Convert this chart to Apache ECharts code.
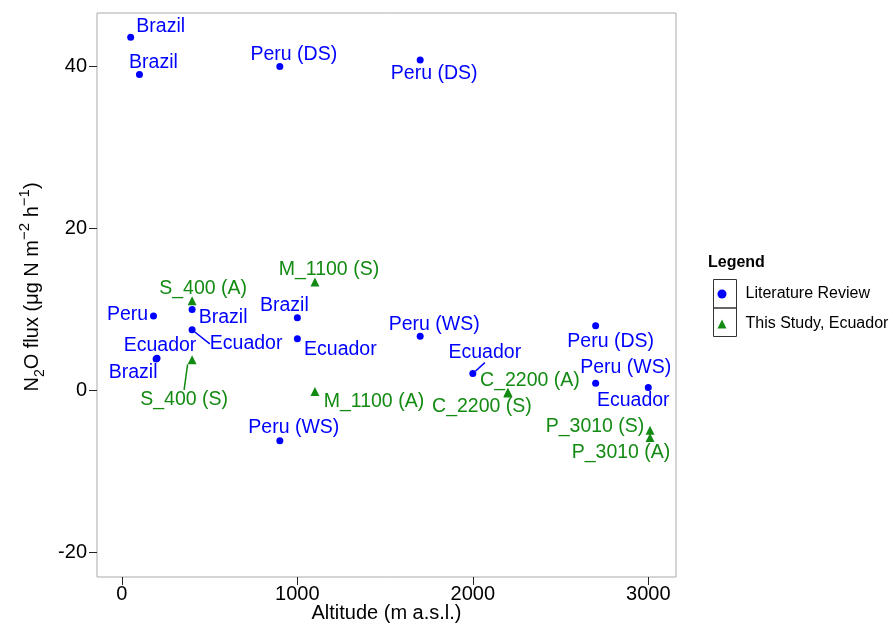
<!DOCTYPE html>
<html>
<head>
<meta charset="utf-8">
<script src="https://cdn.jsdelivr.net/npm/echarts@6/dist/echarts.min.js"></script>
<style>
  html, body { margin: 0; padding: 0; background: #fff; }
  #chart { width: 893px; height: 624px; }
</style>
</head>
<body>
<div id="chart"></div>
<script>
// literature review points
const litNames = ['Brazil', 'Brazil', 'Peru (DS)', 'Peru (DS)', 'Peru', 'Brazil', 'Ecuador', 'Ecuador', 'Brazil',
  'Brazil', 'Ecuador', 'Peru (WS)', 'Peru (WS)', 'Ecuador', 'Peru (DS)', 'Peru (WS)', 'Ecuador']
const litX = [50, 100, 900, 1700, 180, 400, 400, 200, 195, 1000, 1000, 900, 1700, 2000, 2700, 2700, 3000]
const litY = [43.6, 39.0, 40.0, 40.8, 9.2, 10.0, 7.5, 4.0, 3.9, 9.0, 6.4, -6.2, 6.7, 2.1, 8.0, 0.9, 0.4]

// this study, Ecuador
const studyNames = ['S_400 (A)', 'S_400 (S)', 'M_1100 (S)', 'M_1100 (A)', 'C_2200 (A)', 'C_2200 (S)', 'P_3010 (S)', 'P_3010 (A)']
const studyX = [400, 400, 1100, 1100, 2200, 2200, 3010, 3010]
const studyY = [11.1, 3.8, 13.4, -0.1, -0.2, -0.3, -4.9, -5.8]

const xTicks = [0, 1000, 2000, 3000]
const yTicks = [-20, 0, 20, 40]

// label placement in pixels from the point (repel style)
const litLabelShift = [[30, -11], [14, -12], [14, -12], [14, 14], [-26, -1], [31, 8], [54, 14], [3, -13], [-23, 14],
  [-13, -12], [43, 11], [14, -13], [14, -12], [12, -21], [15, 16], [30, -16], [-15, 13]]
const studyLabelShift = [[11, -12], [-8, 40], [14, -12], [59, 10], [22, -12], [-26, 14], [-55, -4], [-29, 15]]
const litSegments = [6, 13]
const studySegments = [1]

const BLUE = '#0000ff'
const GREEN = '#138b13'
const FONT = '"Liberation Sans", Arial, sans-serif'

const buildData = (names, xs, ys, segments) => names.map((n, i) => {
  const item = { name: n, value: [xs[i], ys[i]] }
  if (segments.includes(i)) item.labelLine = { show: true }
  return item
})

const chart = echarts.init(document.getElementById('chart'))

const option = {
  backgroundColor: '#fff',
  animation: false,
  textStyle: { fontFamily: FONT },
  title: {
    text: 'Legend',
    left: 708,
    top: 255,
    padding: 0,
    textStyle: { fontSize: 16, fontWeight: 'bold', color: '#000', fontFamily: FONT }
  },
  legend: {
    orient: 'vertical',
    left: 717.5,
    top: 286,
    padding: 0,
    itemWidth: 9,
    itemHeight: 9,
    itemGap: 14,
    textStyle: { fontSize: 16, color: '#000', padding: [0, 0, 0, 14], fontFamily: FONT },
    data: [
      { name: 'Literature Review', icon: 'circle' },
      { name: 'This Study, Ecuador', icon: 'triangle' }
    ]
  },
  graphic: [
    { type: 'rect', shape: { x: 713.5, y: 279.5, width: 23, height: 28.5 }, style: { fill: 'none', stroke: '#333', lineWidth: 1 } },
    { type: 'rect', shape: { x: 713.5, y: 308, width: 23, height: 28.5 }, style: { fill: 'none', stroke: '#333', lineWidth: 1 } }
  ],
  grid: {
    left: 97,
    right: 217,
    top: 13,
    bottom: 47,
    outerBoundsMode: 'none',
    show: true,
    borderColor: '#aaa',
    borderWidth: 1
  },
  xAxis: {
    type: 'value',
    min: -142,
    max: 3158,
    name: 'Altitude (m a.s.l.)',
    nameLocation: 'middle',
    nameGap: 26,
    nameMoveOverlap: false,
    nameTextStyle: { fontSize: 20, color: '#000', fontFamily: FONT },
    axisLine: { show: false, onZero: false },
    splitLine: { show: false },
    axisTick: { show: true, length: 8, lineStyle: { color: '#222' }, customValues: xTicks },
    axisLabel: { fontSize: 20, color: '#000', margin: 7, customValues: xTicks, formatter: v => String(v), fontFamily: FONT }
  },
  yAxis: {
    type: 'value',
    min: -23,
    max: 46.6,
    name: '{n|N}{sub|2}{n|O flux (μg N m}{sup|−2}{n| h}{sup|−1}{n|)}',
    nameLocation: 'middle',
    nameRotate: 90,
    nameGap: 50,
    nameMoveOverlap: false,
    nameTextStyle: {
      color: '#000',
      fontFamily: FONT,
      padding: [0, 0, 0, 16],
      rich: {
        n: { fontSize: 20, lineHeight: 30, color: '#000', fontFamily: FONT },
        sub: { fontSize: 14, lineHeight: 14, verticalAlign: 'bottom', color: '#000', fontFamily: FONT },
        sup: { fontSize: 15, lineHeight: 15, verticalAlign: 'top', color: '#000', fontFamily: FONT }
      }
    },
    axisLine: { show: false, onZero: false },
    splitLine: { show: false },
    axisTick: { show: true, length: 8, lineStyle: { color: '#222' }, customValues: yTicks },
    axisLabel: { fontSize: 20, color: '#000', margin: 10, customValues: yTicks, formatter: v => String(v), fontFamily: FONT }
  },
  series: [
    {
      name: 'Literature Review',
      type: 'scatter',
      symbol: 'circle',
      symbolSize: 7,
      itemStyle: { color: BLUE, opacity: 1 },
      data: buildData(litNames, litX, litY, litSegments),
      label: { show: true, position: 'inside', formatter: '{b}', fontSize: 19.5, color: BLUE, fontFamily: FONT },
      labelLine: { show: false, lineStyle: { color: BLUE, width: 1.5 } },
      labelLayout: p => ({ dx: litLabelShift[p.dataIndex][0], dy: litLabelShift[p.dataIndex][1] })
    },
    {
      name: 'This Study, Ecuador',
      type: 'scatter',
      symbol: 'triangle',
      symbolSize: 9,
      itemStyle: { color: GREEN, opacity: 1 },
      data: buildData(studyNames, studyX, studyY, studySegments),
      label: { show: true, position: 'inside', formatter: '{b}', fontSize: 19.5, color: GREEN, fontFamily: FONT },
      labelLine: { show: false, lineStyle: { color: GREEN, width: 1.5 } },
      labelLayout: p => ({ dx: studyLabelShift[p.dataIndex][0], dy: studyLabelShift[p.dataIndex][1] })
    }
  ]
}

chart.setOption(option)
</script>
</body>
</html>
